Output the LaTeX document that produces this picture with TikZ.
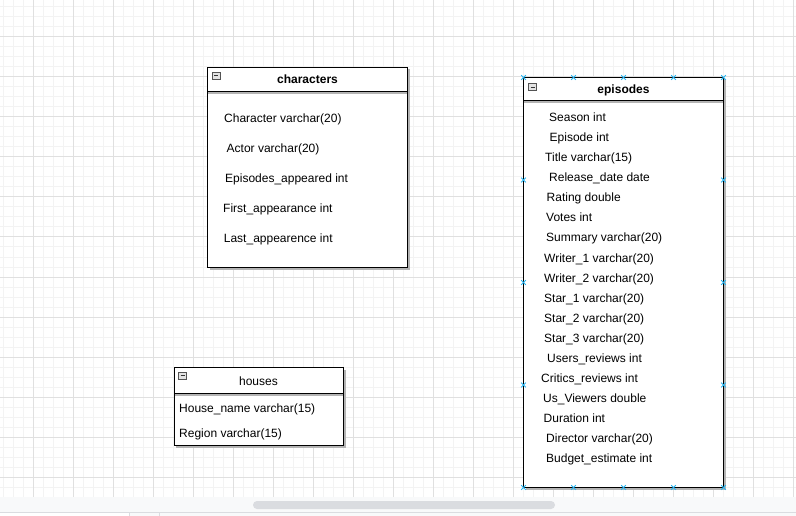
\documentclass[tikz,border=0pt]{standalone}
\usepackage{fontspec}
\setmainfont{Liberation Sans}
\definecolor{gridminor}{HTML}{F3F3F3}
\definecolor{gridmajor}{HTML}{E0E0E0}
\definecolor{band}{HTML}{F8F9FA}
\definecolor{thumbc}{HTML}{DADCE0}
\definecolor{handlec}{HTML}{29B6F2}
\definecolor{shadowc}{HTML}{B4B4B4}
\tikzset{
  fld/.style={anchor=base west, inner sep=0pt, font=\fontsize{12}{14}\selectfont},
  hdr/.style={anchor=base, inner sep=0pt, font=\fontsize{12}{14}\selectfont\bfseries},
  hdrplain/.style={anchor=base, inner sep=0pt, font=\fontsize{12}{14}\selectfont},
  tblbox/.style={fill=white, draw=black, line width=1pt},
  shadowbox/.style={fill=shadowc},
  iconbox/.style={fill=gray!22, draw=gray!65!black, line width=0.6pt},
  iconbar/.style={draw=black!80, line width=0.9pt},
  handle/.style={draw=handlec, line width=1pt}
}
\newcommand{\mkhandle}[2]{\draw[handle] (#1-2.3,#2-2.3) -- (#1+2.3,#2+2.3) (#1-2.3,#2+2.3) -- (#1+2.3,#2-2.3);}
\begin{document}
\begin{tikzpicture}[x=1pt,y=-1pt]
\useasboundingbox (0,0) rectangle (796,516);
\fill[white] (0,0) rectangle (796,516);
% grid
\foreach \x in {3,13,...,793} \draw[gridminor, line width=1pt] (\x,0) -- (\x,497);
\foreach \y in {7,17,...,497} \draw[gridminor, line width=1pt] (0,\y) -- (796,\y);
\foreach \x in {33,73,...,793} \draw[gridmajor, line width=1pt] (\x,0) -- (\x,497);
\foreach \y in {37,77,...,477} \draw[gridmajor, line width=1pt] (0,\y) -- (796,\y);
% bottom scroll band
\fill[band] (0,497) rectangle (796,512);
\fill[thumbc, rounded corners=4pt] (253,501) rectangle (555,509);
\fill[band] (0,512) rectangle (796,516);
\fill[white] (0,513) rectangle (129,516);
\draw[thumbc, line width=1pt] (0,512.5) -- (796,512.5);
\draw[thumbc, line width=1pt] (129,512.5) -- (129,516) (159,512.5) -- (159,516);

% ---------- characters ----------
\fill[shadowbox] (209.5,69.5) rectangle (409.5,269.5);
\filldraw[tblbox] (207.5,67.5) rectangle (407.5,267.5);
\fill[shadowbox] (208,92) rectangle (407,94);
\draw[black, line width=1pt] (207.5,91.5) -- (407.5,91.5);
\filldraw[iconbox] (212,72) rectangle (220,79);
\draw[iconbar] (214,75.5) -- (218,75.5);
\node[hdr] (charsh) at (307.5,84) {characters};
\node[fld] (c1) at (224,122.7) {Character varchar(20)};
\node[fld] (c2) at (226.5,152.7) {Actor varchar(20)};
\node[fld] (c3) at (225,182.7) {Episodes\_appeared int};
\node[fld] (c4) at (223,212.7) {First\_appearance int};
\node[fld] (c5) at (223.7,242.7) {Last\_appearence int};

% ---------- houses ----------
\fill[shadowbox] (176,369.5) rectangle (345.5,447.5);
\filldraw[tblbox] (174,367.5) rectangle (343.5,445.5);
\fill[shadowbox] (174.5,394) rectangle (343,396);
\draw[black, line width=1pt] (174,393.5) -- (343.5,393.5);
\filldraw[iconbox] (178.5,372) rectangle (186.5,379);
\draw[iconbar] (180.5,375.5) -- (184.5,375.5);
\node[hdrplain] (housesh) at (258.5,385.3) {houses};
\node[fld] (h1) at (179,412) {House\_name varchar(15)};
\node[fld] (h2) at (179,437) {Region varchar(15)};

% ---------- episodes ----------
\fill[shadowbox] (525.5,79.5) rectangle (725.5,489.5);
\filldraw[tblbox] (523.5,77.5) rectangle (723.5,487.5);
\fill[shadowbox] (524,101) rectangle (723,103);
\draw[black, line width=1pt] (523.5,100.5) -- (723.5,100.5);
\filldraw[iconbox] (528.5,83.5) rectangle (536.5,90.5);
\draw[iconbar] (530.5,87) -- (534.5,87);
\node[hdr] (epish) at (623.5,94) {episodes};
\node[fld] (e1) at (549,122) {Season int};
\node[fld] (e2) at (549.5,142) {Episode int};
\node[fld] (e3) at (545,162) {Title varchar(15)};
\node[fld] (e4) at (549,182) {Release\_date date};
\node[fld] (e5) at (546.5,202) {Rating double};
\node[fld] (e6) at (546,222) {Votes int};
\node[fld] (e7) at (546,242) {Summary varchar(20)};
\node[fld] (e8) at (544,262) {Writer\_1 varchar(20)};
\node[fld] (e9) at (544,282) {Writer\_2 varchar(20)};
\node[fld] (e10) at (544,302) {Star\_1 varchar(20)};
\node[fld] (e11) at (544,322) {Star\_2 varchar(20)};
\node[fld] (e12) at (544,342) {Star\_3 varchar(20)};
\node[fld] (e13) at (547,362) {Users\_reviews int};
\node[fld] (e14) at (541,382) {Critics\_reviews int};
\node[fld] (e15) at (543,402) {Us\_Viewers double};
\node[fld] (e16) at (543.5,422) {Duration int};
\node[fld] (e17) at (546,442) {Director varchar(20)};
\node[fld] (e18) at (546,462) {Budget\_estimate int};
% selection handles
\foreach \x in {523.5,573.5,623.5,673.5,723.5} {\mkhandle{\x}{77.5}\mkhandle{\x}{487.5}}
\foreach \y in {180,282.5,385} {\mkhandle{523.5}{\y}\mkhandle{723.5}{\y}}
\end{tikzpicture}
\end{document}
